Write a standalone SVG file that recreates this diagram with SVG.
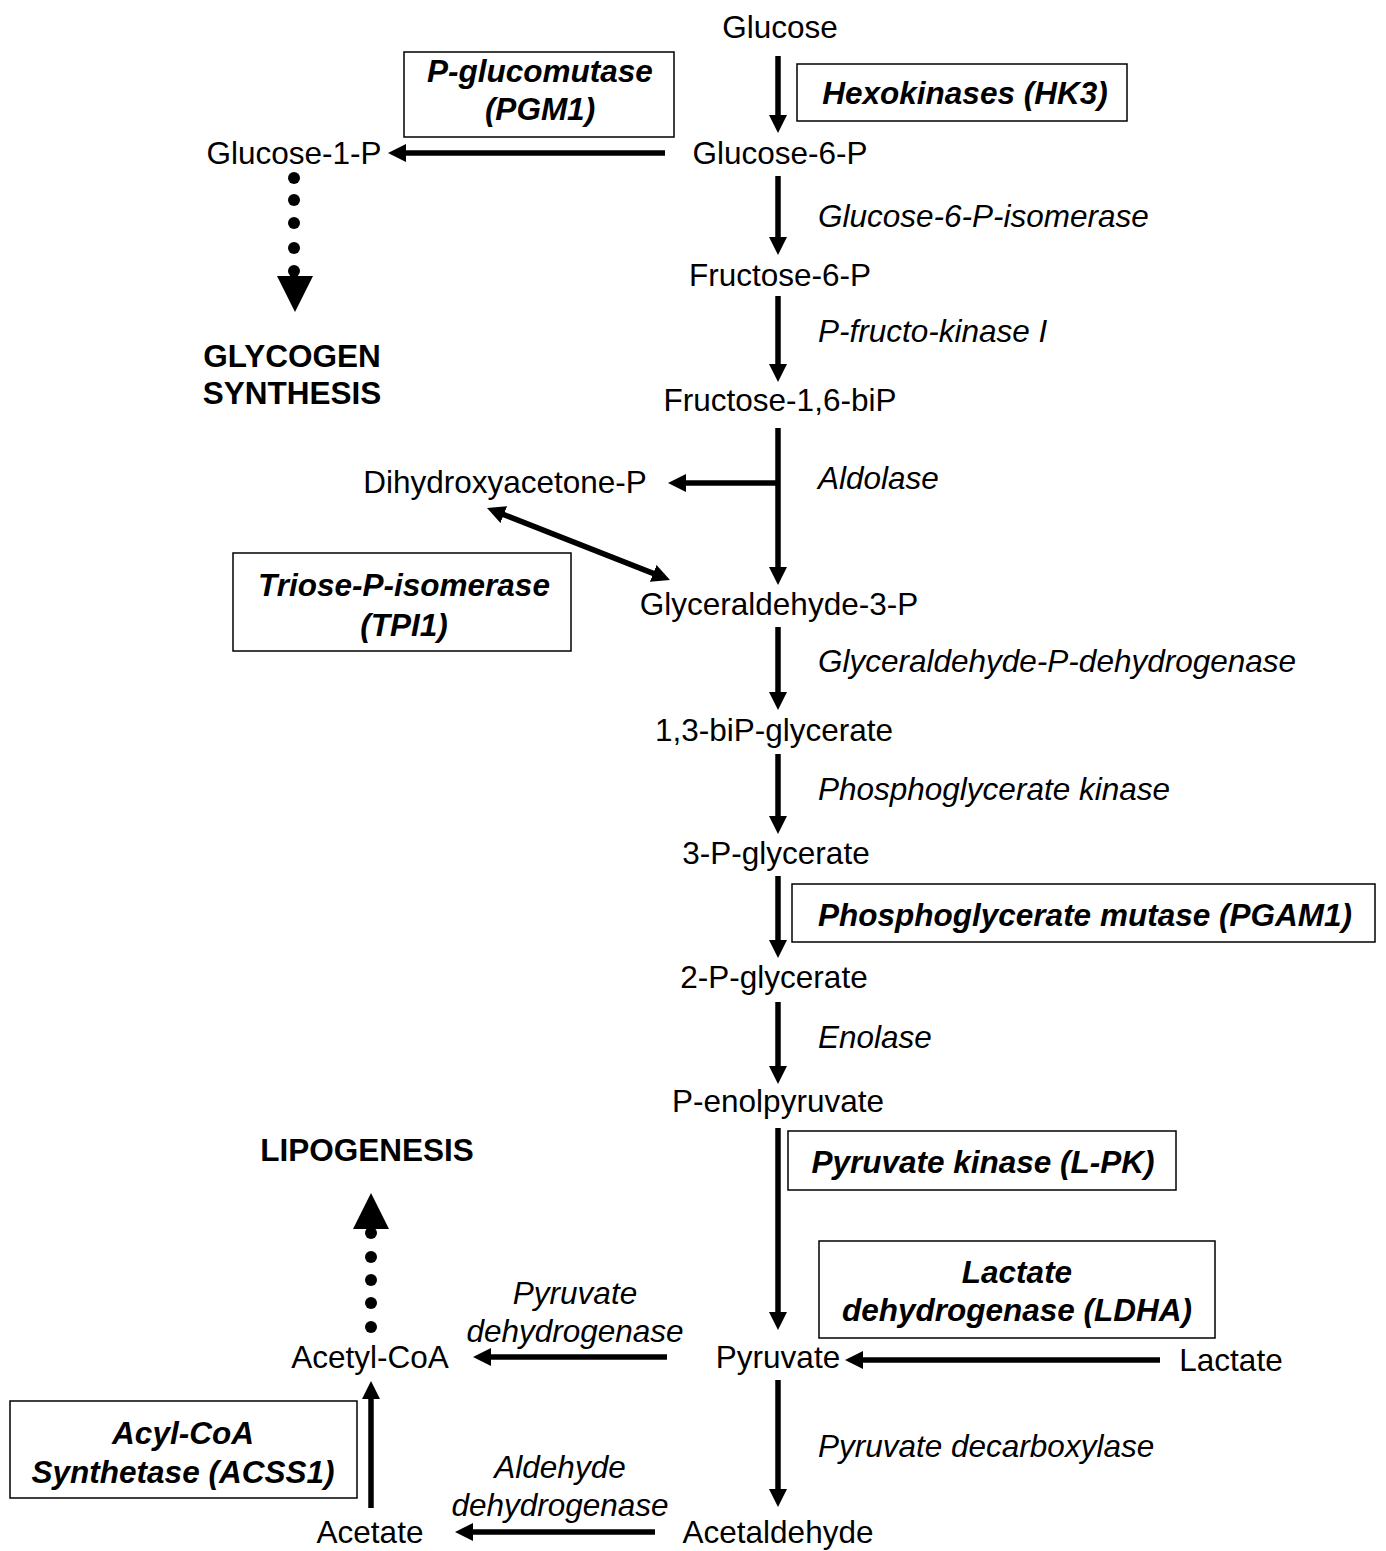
<svg xmlns="http://www.w3.org/2000/svg" width="1386" height="1551" viewBox="0 0 1386 1551">
<style>
text{font-family:"Liberation Sans",Arial,sans-serif;font-size:31.5px;fill:#000}
.m{text-anchor:middle}
.e{font-style:italic}
.b{font-weight:bold}
.bi{font-weight:bold;font-style:italic;text-anchor:middle}
.box{fill:#fff;stroke:#000;stroke-width:1.5}
.a{stroke:#000;stroke-width:5.5;fill:none;marker-end:url(#ah)}
.d{fill:#000}
</style>
<defs>
<marker id="ah" markerUnits="userSpaceOnUse" viewBox="0 0 18 18" markerWidth="18" markerHeight="18" refX="2" refY="9" orient="auto-start-reverse">
<path d="M0,0 L18,9 L0,18 z" fill="#000"/>
</marker>
</defs>
<rect width="1386" height="1551" fill="#fff"/>
<g id="connectors">
<line class="a" x1="778" y1="56" x2="778" y2="117"/>
<line class="a" x1="778" y1="176" x2="778" y2="239"/>
<line class="a" x1="778" y1="296" x2="778" y2="366"/>
<line class="a" x1="778" y1="428" x2="778" y2="569"/>
<line class="a" x1="780" y1="483" x2="684" y2="483"/>
<line class="a" x1="778" y1="627" x2="778" y2="694"/>
<line class="a" x1="778" y1="754" x2="778" y2="818"/>
<line class="a" x1="778" y1="876" x2="778" y2="942"/>
<line class="a" x1="778" y1="1002" x2="778" y2="1068"/>
<line class="a" x1="778" y1="1128" x2="778" y2="1314"/>
<line class="a" x1="778" y1="1380" x2="778" y2="1491"/>
<line class="a" x1="665" y1="153" x2="404" y2="153"/>
<line class="a" x1="1160" y1="1360" x2="861" y2="1360"/>
<line class="a" x1="667" y1="1357" x2="489" y2="1357"/>
<line class="a" x1="655" y1="1532" x2="471" y2="1532"/>
<line class="a" x1="371" y1="1508" x2="371" y2="1397"/>
<line class="a" x1="501.9" y1="513.9" x2="655.1" y2="574.1" style="marker-start:url(#ah)"/>
<g id="dots-glycogen">
<circle class="d" cx="294" cy="178" r="6"/>
<circle class="d" cx="294" cy="200" r="6"/>
<circle class="d" cx="294" cy="223" r="6"/>
<circle class="d" cx="294" cy="248" r="6"/>
<circle class="d" cx="294" cy="271" r="6"/>
<polygon class="d" points="277,276 313,276 295,312"/>
</g>
<g id="dots-lipogenesis">
<circle class="d" cx="371" cy="1327" r="6"/>
<circle class="d" cx="371" cy="1303" r="6"/>
<circle class="d" cx="371" cy="1280" r="6"/>
<circle class="d" cx="371" cy="1257" r="6"/>
<circle class="d" cx="371" cy="1233" r="6"/>
<polygon class="d" points="353,1229 389,1229 371,1193"/>
</g>
</g>
<g id="n-glucose"><text class="m" x="780" y="38">Glucose</text></g>
<g id="n-g6p"><text class="m" x="780" y="164">Glucose-6-P</text></g>
<g id="n-f6p"><text class="m" x="780" y="286">Fructose-6-P</text></g>
<g id="n-f16bp"><text class="m" x="780" y="411">Fructose-1,6-biP</text></g>
<g id="n-gap"><text class="m" x="779" y="615">Glyceraldehyde-3-P</text></g>
<g id="n-13bpg"><text class="m" x="774" y="741">1,3-biP-glycerate</text></g>
<g id="n-3pg"><text class="m" x="776" y="864">3-P-glycerate</text></g>
<g id="n-2pg"><text class="m" x="774" y="988">2-P-glycerate</text></g>
<g id="n-pep"><text class="m" x="778" y="1112">P-enolpyruvate</text></g>
<g id="n-pyruvate"><text class="m" x="778" y="1368">Pyruvate</text></g>
<g id="n-acetaldehyde"><text class="m" x="778" y="1543">Acetaldehyde</text></g>
<g id="n-lactate"><text class="m" x="1231" y="1371">Lactate</text></g>
<g id="n-acetylcoa"><text class="m" x="370" y="1368">Acetyl-CoA</text></g>
<g id="n-acetate"><text class="m" x="370" y="1543">Acetate</text></g>
<g id="n-g1p"><text class="m" x="294" y="164">Glucose-1-P</text></g>
<g id="n-dhap"><text class="m" x="505" y="493">Dihydroxyacetone-P</text></g>
<g id="n-glycogen"><text class="m b" x="292" y="367">GLYCOGEN</text><text class="m b" x="292" y="404">SYNTHESIS</text></g>
<g id="n-lipogenesis"><text class="m b" x="367" y="1161">LIPOGENESIS</text></g>
<g id="enzymes">
<text class="e" x="818" y="227">Glucose-6-P-isomerase</text>
<text class="e" x="818" y="342">P-fructo-kinase I</text>
<text class="e" x="818" y="489">Aldolase</text>
<text class="e" x="818" y="672">Glyceraldehyde-P-dehydrogenase</text>
<text class="e" x="818" y="800">Phosphoglycerate kinase</text>
<text class="e" x="818" y="1048">Enolase</text>
<text class="e" x="818" y="1457">Pyruvate decarboxylase</text>
<text class="e m" x="575" y="1304">Pyruvate</text>
<text class="e m" x="575" y="1342">dehydrogenase</text>
<text class="e m" x="560" y="1478">Aldehyde</text>
<text class="e m" x="560" y="1516">dehydrogenase</text>
</g>
<g id="box-pgm1"><rect class="box" x="404" y="52" width="270" height="85"/><text class="bi" x="540" y="82">P-glucomutase</text><text class="bi" x="540" y="120">(PGM1)</text></g>
<g id="box-hk3"><rect class="box" x="797" y="64" width="330" height="57"/><text class="bi" x="965" y="104">Hexokinases (HK3)</text></g>
<g id="box-tpi1"><rect class="box" x="233" y="553" width="338" height="98"/><text class="bi" x="404" y="596">Triose-P-isomerase</text><text class="bi" x="404" y="636">(TPI1)</text></g>
<g id="box-pgam1"><rect class="box" x="792" y="884" width="583" height="58"/><text class="bi" x="1085" y="926">Phosphoglycerate mutase (PGAM1)</text></g>
<g id="box-lpk"><rect class="box" x="788" y="1131" width="388" height="59"/><text class="bi" x="983" y="1173">Pyruvate kinase (L-PK)</text></g>
<g id="box-ldha"><rect class="box" x="819" y="1241" width="396" height="97"/><text class="bi" x="1017" y="1283">Lactate</text><text class="bi" x="1017" y="1321">dehydrogenase (LDHA)</text></g>
<g id="box-acss1"><rect class="box" x="10" y="1401" width="347" height="97"/><text class="bi" x="183" y="1444">Acyl-CoA</text><text class="bi" x="183" y="1483">Synthetase (ACSS1)</text></g>
</svg>
